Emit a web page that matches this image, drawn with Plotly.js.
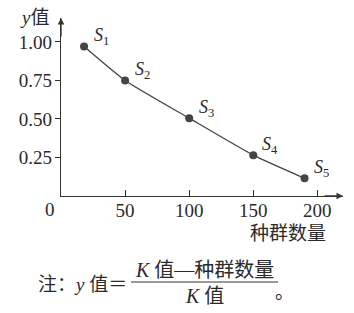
<!DOCTYPE html>
<html><head><meta charset="utf-8">
<script src="https://cdn.plot.ly/plotly-3.0.1.min.js"></script>
<style>html,body{margin:0;padding:0;background:#fff}#chart{width:354px;height:313px}</style>
</head><body><div id="chart"></div>
<script>
// Sample plots S1..S5: population size vs. y value
const populationSize = [18, 50, 100, 150, 190];
const yValue = [0.97, 0.75, 0.505, 0.265, 0.115];
const pointLabels = ['<i>S</i><sub>1</sub>', '<i>S</i><sub>2</sub>', '<i>S</i><sub>3</sub>', '<i>S</i><sub>4</sub>', '<i>S</i><sub>5</sub>'];
const xTickVals = [50, 100, 150, 200];
const xTickText = ['50', '100', '150', '200'];
const yTickVals = [0.25, 0.5, 0.75, 1.0];
const yTickText = ['0.25', '0.50', '0.75', '1.00'];

const W = 354, H = 313;
const M = {l: 61, r: 11, t: 18, b: 117};
const pw = W - M.l - M.r, ph = H - M.t - M.b;
// pixel -> paper helpers for the free-standing labels
const px = x => (x - M.l) / pw;
const py = y => (H - M.b - y) / ph;

const FONT = "'Liberation Serif', 'Noto Sans CJK SC', serif";
const INK = '#2a2a2a';

const trace = {
  x: populationSize, y: yValue, type: 'scatter', mode: 'lines+markers',
  line: {color: '#444', width: 1.3, shape: 'spline', smoothing: 0.5},
  marker: {color: '#444', size: 8},
  hoverinfo: 'skip', cliponaxis: false
};

function label(xp, yp, text, extra) {
  return Object.assign({x: px(xp), y: py(yp), xref: 'paper', yref: 'paper',
    xanchor: 'center', yanchor: 'middle', text: text, showarrow: false,
    font: {family: FONT, size: 19, color: INK}}, extra || {});
}

const annotations = [];
populationSize.forEach((v, i) => {
  annotations.push({x: v, y: yValue[i], xref: 'x', yref: 'y', text: pointLabels[i],
    xanchor: 'center', yanchor: 'middle',
    showarrow: false, xshift: 17, yshift: 10, font: {family: FONT, size: 18, color: INK}});
});
// axis arrowheads
annotations.push({x: 1, y: 0, xref: 'paper', yref: 'paper', ax: -20, ay: 0, text: '',
  showarrow: true, arrowhead: 2, arrowsize: 1, arrowwidth: 1.3, arrowcolor: '#333'});
annotations.push({x: 0, y: 1, xref: 'paper', yref: 'paper', ax: 0, ay: 20, text: '',
  showarrow: true, arrowhead: 2, arrowsize: 1, arrowwidth: 1.3, arrowcolor: '#333'});
// axis names and origin
annotations.push(label(34, 17, '<i>y</i>值'));
annotations.push(label(288, 233, '种群数量'));
annotations.push(label(50, 209, '0'));
// footnote with fraction
annotations.push(label(129, 284, '注：<i>y</i> 值＝', {xanchor: 'right'}));
annotations.push(label(204, 270, '<i>K</i> 值—种群数量', {font: {family: FONT, size: 20, color: INK}}));
annotations.push(label(204, 296, '<i>K</i> 值', {font: {family: FONT, size: 20, color: INK}}));
annotations.push(label(284, 292, '。'));

const layout = {
  width: W, height: H, margin: M, showlegend: false,
  paper_bgcolor: '#fff', plot_bgcolor: '#fff',
  xaxis: {range: [0, 220], showgrid: false, zeroline: false, showline: true,
    linecolor: '#333', linewidth: 1.3, ticks: 'inside', ticklen: 6, tickcolor: '#333',
    ticklabelstandoff: -3,
    tickvals: xTickVals, ticktext: xTickText, tickfont: {family: FONT, size: 19, color: INK}},
  yaxis: {range: [0, 1.155], showgrid: false, zeroline: false, showline: true,
    linecolor: '#333', linewidth: 1.3, ticks: 'outside', ticklen: 5, tickcolor: '#333',
    ticklabelstandoff: -1,
    tickvals: yTickVals, ticktext: yTickText, tickfont: {family: FONT, size: 19, color: INK}},
  shapes: [{type: 'line', xref: 'paper', yref: 'paper', x0: px(131), x1: px(278),
    y0: py(282), y1: py(282), line: {color: '#333', width: 1.2}}],
  annotations: annotations
};

Plotly.newPlot('chart', [trace], layout, {staticPlot: true, displayModeBar: false});
</script>
</body></html>
